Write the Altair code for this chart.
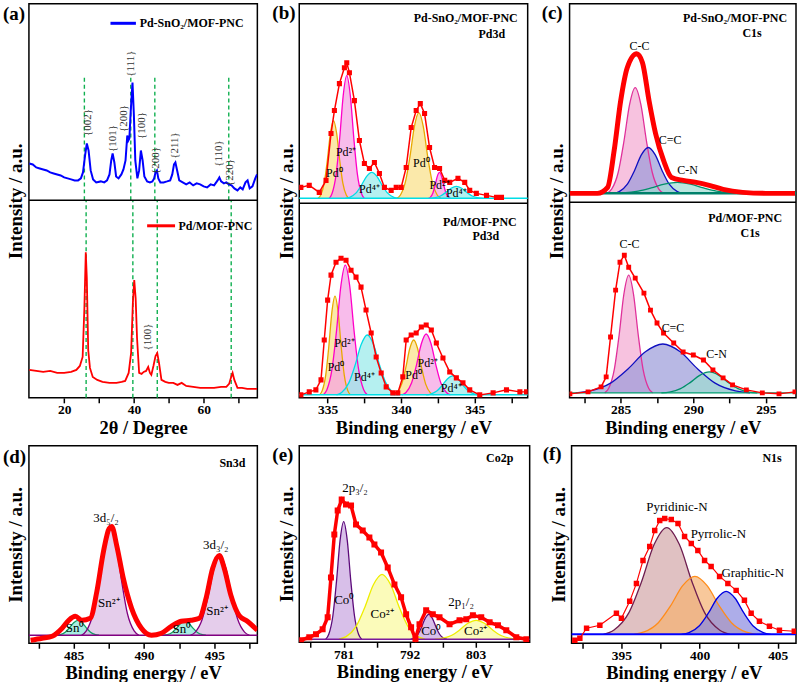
import altair as alt
import pandas as pd

SERIF = "Liberation Serif"
RED = "#ff0000"

# ================= (a) XRD =================
a_domain = [9.9, 75.4]
a_ticks = [20, 40, 60]
a_minor = [30, 50, 70]
xrd_snO2_x = [10, 11, 12, 13, 14, 15, 16, 17, 18, 19,
              20, 21, 22, 23, 24, 24.8, 25.4, 26.0, 26.5, 27.0,
              27.6, 28.3, 29.2, 30.5, 31.5, 32.3, 33.0, 33.5, 33.9, 34.4,
              34.9, 35.6, 36.4, 37.0, 37.6, 38.1, 38.4, 38.7, 39.1, 39.6,
              40.0, 40.4, 41.0, 41.5, 42.0, 42.5, 43.0, 43.8, 44.6, 45.3,
              45.8, 46.2, 46.6, 47.0, 47.6, 48.5, 49.5, 50.4, 51.0, 51.5,
              51.9, 52.4, 53.0, 54.0, 55.0, 56.0, 57.0, 58.0, 59.0, 60.0,
              61.0, 62.0, 63.0, 64.0, 64.5, 65.0, 65.8, 66.5, 67.2, 68.0,
              68.8, 69.7, 70.5, 71.2, 72.0, 72.6, 73.2, 74.0, 74.8, 75.3]
xrd_snO2_y = [37, 36, 33, 32, 31, 30, 28, 27, 26, 25,
              23, 22, 21, 20, 20, 22, 28, 45, 57, 50,
              30, 21, 18, 19, 18, 20, 26, 40, 47, 38,
              24, 22, 26, 31, 40, 65, 60, 62, 90, 118,
              85, 40, 22, 30, 50, 40, 24, 19, 18, 19,
              22, 28, 30, 22, 18, 18, 19, 20, 26, 36,
              38, 30, 20, 18, 16, 18, 15, 17, 16, 14,
              13, 16, 15, 20, 23, 19, 17, 18, 16, 15,
              12, 10, 13, 11, 18, 20, 12, 14, 22, 26]
xrd_pd_x = [10, 12, 14, 16, 18, 20, 22, 23.5, 24.5, 25.3,
            25.8, 26.2, 26.5, 26.9, 27.4, 28.2, 29.5, 31, 33, 35,
            36.5, 37.5, 38.5, 39.2, 39.7, 40.1, 40.5, 40.9, 41.5, 42.2,
            42.8, 43.5, 44.1, 44.6, 45.0, 45.6, 46.2, 46.7, 47.2, 47.9,
            49, 50, 51.3, 52.5, 53.7, 55, 57, 59, 61, 63,
            65, 66.5, 67.3, 67.8, 68.3, 68.8, 69.7, 71, 72.5, 74,
            75.3]
xrd_pd_y = [28, 27, 26, 27, 25, 25, 26, 28, 32, 41,
            90, 146, 120, 48, 30, 21, 18, 16, 15, 15,
            16, 17, 25, 45, 95, 118, 100, 60, 25, 24,
            26, 27, 31, 25, 23, 32, 42, 45, 35, 18,
            16, 15, 15, 13, 15, 12, 11, 10, 10, 10,
            11, 11, 14, 20, 25, 18, 10, 10, 9, 9,
            9]
xrd_guides_top = [25.8, 39.1, 46.0, 67.2]
xrd_guides_bot = [26.3, 39.7, 46.7, 67.9]
hkl_top = [("{002}", 26.7, 78), ("{101}", 33.9, 62), ("{200}", 37.2, 82),
           ("{111}", 39.1, 137), ("{100}", 42.2, 75), ("{200}", 46.3, 40),
           ("{211}", 51.8, 55), ("{110}", 64.3, 47), ("{220}", 67.6, 28)]
hkl_bot = [("{100}", 44.1, 61)]

# ================= (b) Pd3d =================
b_domain = [333.07, 348.6]
b_ticks = [335, 340, 345]
b_minor = [337.5, 342.5, 347.5]
b_top_E = [333.18, 333.75, 334.43, 334.89, 335.23, 335.46, 335.8, 336.14, 336.3, 336.48,
           336.82, 337.16, 337.5, 337.84, 338.18, 338.52, 338.86, 339.32, 339.66, 340.0,
           340.34, 340.68, 341.02, 341.3, 341.59, 341.93, 342.27, 342.61, 342.96, 343.3,
           343.86, 344.32, 344.66, 345.11, 345.8, 346.48, 346.82]
b_top_h = [16, 18, 11, 23, 70, 93, 120, 136, 141, 131,
           103, 63, 40, 35, 41, 30, 16, 13, 16, 16,
           36, 76, 93, 100, 90, 56, 36, 35, 23, 21,
           25, 21, 13, 10, 8, 6, 6]
b_bot_E = [333.18, 333.75, 334.2, 334.55, 334.77, 335.0, 335.23, 335.57, 335.91, 336.25,
           336.59, 336.93, 337.27, 337.61, 337.96, 338.3, 338.64, 338.98, 339.43, 339.77,
           340.11, 340.34, 340.68, 341.02, 341.37, 341.7, 342.05, 342.39, 342.84, 343.3,
           343.75, 344.2, 344.66, 345.34, 346.25, 347.16, 348.07, 348.52]
b_bot_h = [3, 6, 8, 18, 58, 98, 123, 136, 140, 138,
           128, 121, 111, 88, 65, 41, 25, 11, 5, 5,
           21, 58, 63, 65, 71, 73, 68, 55, 40, 26,
           20, 15, 8, 3, 5, 8, 6, 6]
PD0 = ("#e8a800", "#f9df86")
PD2 = ("#ff00c8", "#f5a0e2")
PD4 = ("#00dde6", "#96eaea")
b_top_peaks = [
    ([334.35, 334.525, 334.77, 334.98, 335.19, 335.4, 335.61, 335.82, 336.03, 336.275, 336.45],
     [5, 8.1, 20.6, 43.2, 70.5, 83, 70.5, 43.2, 20.6, 8.1, 5]) + PD0,
    ([335.1, 335.3, 335.58, 335.82, 336.06, 336.3, 336.54, 336.78, 337.02, 337.3, 337.5],
     [5, 9.9, 29.6, 65.3, 108.3, 128, 108.3, 65.3, 29.6, 9.9, 5]) + PD2,
    ([336.2, 336.5, 336.92, 337.28, 337.64, 338.0, 338.36, 338.72, 339.08, 339.5, 339.8],
     [5, 6, 10.2, 17.7, 26.8, 31, 26.8, 17.7, 10.2, 6, 5]) + PD4,
    ([339.7, 339.95, 340.3, 340.6, 340.9, 341.2, 341.5, 341.8, 342.1, 342.45, 342.7],
     [5, 8.4, 22.2, 47.1, 77.2, 91, 77.2, 47.1, 22.2, 8.4, 5]) + PD0,
    ([341.85, 341.975, 342.15, 342.3, 342.45, 342.6, 342.75, 342.9, 343.05, 343.225, 343.35],
     [5, 6, 10.2, 17.7, 26.8, 31, 26.8, 17.7, 10.2, 6, 5]) + PD2,
    ([341.95, 342.25, 342.67, 343.03, 343.39, 343.75, 344.11, 344.47, 344.83, 345.25, 345.55],
     [5, 5.5, 7.4, 10.9, 15.1, 17, 15.1, 10.9, 7.4, 5.5, 5]) + PD4,
]
b_bot_peaks = [
    ([334.45, 334.625, 334.87, 335.08, 335.29, 335.5, 335.71, 335.92, 336.13, 336.375, 336.55],
     [3, 7, 22.8, 51.5, 86.2, 102, 86.2, 51.5, 22.8, 7, 3]) + PD0,
    ([334.7, 334.95, 335.3, 335.6, 335.9, 336.2, 336.5, 336.8, 337.1, 337.45, 337.7],
     [3, 8.2, 29, 66.7, 112.2, 133, 112.2, 66.7, 29, 8.2, 3]) + PD2,
    ([335.6, 335.95, 336.44, 336.86, 337.28, 337.7, 338.12, 338.54, 338.96, 339.45, 339.8],
     [3, 5.4, 15, 32.4, 53.4, 63, 53.4, 32.4, 15, 5.4, 3]) + PD4,
    ([339.5, 339.725, 340.04, 340.31, 340.58, 340.85, 341.12, 341.39, 341.66, 341.975, 342.2],
     [3, 5.2, 14, 30, 49.2, 58, 49.2, 30, 14, 5.2, 3]) + PD0,
    ([340.05, 340.325, 340.71, 341.04, 341.37, 341.7, 342.03, 342.36, 342.69, 343.075, 343.35],
     [3, 5.4, 15.2, 32.9, 54.2, 64, 54.2, 32.9, 15.2, 5.4, 3]) + PD2,
    ([341.7, 342.0, 342.42, 342.78, 343.14, 343.5, 343.86, 344.22, 344.58, 345.0, 345.3],
     [3, 3.8, 6.8, 12.3, 19, 22, 19, 12.3, 6.8, 3.8, 3]) + PD4,
]
b_top_labels = [("Pd⁰", 335.46, 30), ("Pd²⁺", 336.25, 51), ("Pd⁴⁺", 337.84, 14),
                ("Pd⁰", 341.37, 40), ("Pd²⁺", 342.61, 18), ("Pd⁴⁺", 343.75, 10)]
b_bot_labels = [("Pd⁰", 335.57, 31), ("Pd²⁺", 336.14, 55), ("Pd⁴⁺", 337.5, 21),
                ("Pd⁰", 340.85, 23), ("Pd²⁺", 341.8, 35), ("Pd⁴⁺", 343.4, 10)]

# ================= (c) C1s =================
c_domain = [281.48, 297.07]
c_ticks = [285, 290, 295]
c_minor = [282.5, 287.5, 292.5]
c_top_E = [281.5, 283.4, 284.1, 284.55, 285.0, 285.45, 286.1, 286.5, 286.95, 287.4,
           287.95, 288.5, 289.3, 290.2, 291.1, 292.05, 293.4, 295.0, 297.0]
c_top_h = [9, 9, 15, 52, 102, 135, 149, 140, 102, 69,
           42, 25, 22, 20, 17, 13, 10, 9, 9]
c_bot_E = [281.5, 282.75, 283.65, 284.0, 284.3, 284.65, 284.95, 285.25, 285.55, 286.0,
           286.6, 287.05, 287.5, 287.95, 288.65, 289.3, 290.0, 290.7, 291.35, 292.05,
           292.7, 293.65, 294.75, 295.9, 297.0]
c_bot_h = [4, 6, 11, 21, 61, 108, 136, 143, 131, 120,
           105, 88, 75, 65, 55, 46, 43, 38, 28, 20,
           13, 8, 5, 4, 6]
CC = ("#e0309a", "#f4a8d2")
CDC = ("#1010c0", "#9a9ad8")
CN = ("#008f6a", "#9edcd2")
c_top_peaks = [
    ([284.05, 284.375, 284.83, 285.22, 285.61, 286.0, 286.39, 286.78, 287.17, 287.625, 287.95],
     [9, 13.2, 30.2, 61, 98, 115, 98, 61, 30.2, 13.2, 9]) + CC,
    ([284.5, 284.9, 285.46, 285.94, 286.42, 286.9, 287.38, 287.86, 288.34, 288.9, 289.3],
     [9, 10.8, 18.2, 31.5, 47.6, 55, 47.6, 31.5, 18.2, 10.8, 9]) + CDC,
    ([284.4, 285.15, 286.2, 287.1, 288.0, 288.9, 289.8, 290.7, 291.6, 292.65, 293.4],
     [9, 9.4, 11.2, 14.4, 18.2, 20, 18.2, 14.4, 11.2, 9.4, 9]) + CN,
]
c_bot_peaks = [
    ([283.9, 284.175, 284.56, 284.89, 285.22, 285.55, 285.88, 286.21, 286.54, 286.925, 287.2],
     [5, 9.7, 28.6, 62.8, 104.1, 123, 104.1, 62.8, 28.6, 9.7, 5]) + CC,
    ([281.9, 282.9, 284.3, 285.5, 286.7, 287.9, 289.1, 290.3, 291.5, 292.9, 293.9],
     [5, 7, 14.8, 29, 46.2, 54, 46.2, 29, 14.8, 7, 5]) + CDC,
    ([287.8, 288.35, 289.12, 289.78, 290.44, 291.1, 291.76, 292.42, 293.08, 293.85, 294.4],
     [5, 5.8, 9.2, 15.3, 22.6, 26, 22.6, 15.3, 9.2, 5.8, 5]) + CN,
]
c_top_labels = [("C-C", 286.3, 157), ("C=C", 288.4, 62), ("C-N", 289.6, 32)]
c_bot_labels = [("C-C", 285.6, 154), ("C=C", 288.6, 70), ("C-N", 291.6, 44)]

# ================= (d) Sn3d =================
d_domain = [481.82, 498.06]
d_ticks = [485, 490, 495]
d_minor = [482.5, 487.5, 492.5, 497.5]
d_E = [481.94, 482.76, 483.47, 484.18, 484.65, 485.12, 485.59, 486.18, 486.65, 487.12,
       487.52, 487.71, 488.06, 488.53, 489.12, 489.82, 490.53, 491.24, 491.94, 492.65,
       493.35, 493.94, 494.41, 494.88, 495.35, 495.71, 496.18, 496.76, 497.35, 498.06]
d_h = [3, 5, 7, 15, 23, 27, 23, 25, 52, 92,
       115, 117, 98, 65, 35, 15, 8, 10, 17, 22,
       23, 25, 45, 75, 88, 75, 48, 28, 22, 13]
SN0 = ("#10a060", "#80e6d6")
SN2 = ("#800080", "#dab8e2")
d_peaks = [
    ([483.8, 484.05, 484.4, 484.7, 485.0, 485.3, 485.6, 485.9, 486.2, 486.55, 486.8],
     [8, 8.6, 11, 15.4, 20.6, 23, 20.6, 15.4, 11, 8.6, 8]) + SN0,
    ([485.56, 485.9, 486.38, 486.78, 487.19, 487.6, 488.01, 488.42, 488.82, 489.3, 489.64],
     [8, 12.4, 29.8, 61.4, 99.6, 117, 99.6, 61.4, 29.8, 12.4, 8]) + SN2,
    ([491.4, 491.65, 492.0, 492.3, 492.6, 492.9, 493.2, 493.5, 493.8, 494.15, 494.4],
     [8, 8.6, 10.8, 14.9, 19.8, 22, 19.8, 14.9, 10.8, 8.6, 8]) + SN0,
    ([493.3, 493.65, 494.14, 494.56, 494.98, 495.4, 495.82, 496.24, 496.66, 497.15, 497.5],
     [8, 11.2, 24, 47.2, 75.2, 88, 75.2, 47.2, 24, 11.2, 8]) + SN2,
]
d_labels = [("3d₅/₂", 487.3, 126), ("3d₃/₂", 495.1, 98), ("Sn²⁺", 487.5, 40),
            ("Sn²⁺", 495.2, 32), ("Sn⁰", 485.1, 15), ("Sn⁰", 492.7, 14)]

# ================= (e) Co2p =================
e_domain = [773.59, 812.03]
e_ticks = [781, 792, 803]
e_minor = [775.5, 786.5, 797.5, 808.5]
e_E = [773.87, 775.26, 776.38, 777.49, 778.33, 778.88, 779.44, 780.0, 780.67, 781.39,
       782.23, 783.06, 784.18, 785.29, 786.13, 787.24, 788.35, 789.47, 790.58, 791.42,
       792.25, 792.98, 793.65, 794.76, 795.87, 796.99, 798.66, 800.33, 801.45, 802.56,
       803.95, 805.35, 806.74, 808.13, 809.8, 811.47]
e_h = [2, 5, 8, 13, 25, 65, 108, 132, 143, 138,
       137, 118, 112, 105, 98, 90, 75, 58, 45, 28,
       15, 3, 18, 32, 28, 25, 18, 22, 23, 27,
       25, 20, 17, 12, 5, 3]
CO0 = ("#5c0a7a", "#c8a4e0")
CO2 = ("#eeee00", "#fafa9c")
e_peaks = [
    ([778.0, 778.5, 779.2, 779.8, 780.4, 781.0, 781.6, 782.2, 782.8, 783.5, 784.0],
     [3, 7.7, 26.6, 60.8, 102.1, 121, 102.1, 60.8, 26.6, 7.7, 3]) + CO0,
    ([780.2, 781.4, 783.08, 784.52, 785.96, 787.4, 788.84, 790.28, 791.72, 793.4, 794.6],
     [3, 5.6, 16, 34.9, 57.6, 68, 57.6, 34.9, 16, 5.6, 3]) + CO2,
    ([792.2, 792.7, 793.4, 794.0, 794.6, 795.2, 795.8, 796.4, 797.0, 797.7, 798.2],
     [3, 4, 8, 15.3, 24, 28, 24, 15.3, 8, 4, 3]) + CO0,
    ([796.2, 797.35, 798.96, 800.34, 801.72, 803.1, 804.48, 805.86, 807.24, 808.85, 810.0],
     [3, 3.8, 6.8, 12.3, 19, 22, 19, 12.3, 6.8, 3.8, 3]) + CO2,
]
e_labels = [("2p₃/₂", 782.9, 155), ("Co⁰", 781.1, 42), ("Co²⁺", 787.4, 28),
            ("2p₁/₂", 800.6, 40), ("Co⁰", 795.6, 11), ("Co²⁺", 803.0, 11)]

# ================= (f) N1s =================
f_domain = [391.81, 406.17]
f_ticks = [395, 400, 405]
f_minor = [392.5, 397.5, 402.5]
f_E = [392.02, 392.34, 392.77, 393.62, 394.68, 395.0, 395.53, 395.96, 396.38, 396.81,
       397.13, 397.45, 397.77, 398.19, 398.62, 399.04, 399.47, 399.89, 400.32, 400.74,
       401.28, 401.81, 402.34, 402.87, 403.3, 403.83, 404.47, 405.11, 406.06]
f_h = [3, 5, 15, 18, 30, 25, 42, 60, 83, 97,
       113, 123, 125, 124, 120, 107, 100, 93, 83, 77,
       67, 60, 53, 43, 30, 22, 17, 13, 12]
f_peaks = [
    ([393.85, 394.525, 395.47, 396.28, 397.09, 397.9, 398.71, 399.52, 400.33, 401.275, 401.95],
     [9, 13.3, 30.4, 61.4, 98.9, 116, 98.9, 61.4, 30.4, 13.3, 9], "#6e1e50", "#d3a6a8"),
    ([395.8, 396.45, 397.36, 398.14, 398.92, 399.7, 400.48, 401.26, 402.04, 402.95, 403.6],
     [9, 11.3, 20.6, 37.4, 57.7, 67, 57.7, 37.4, 20.6, 11.3, 9], "#ff8c1a", "#f5b070"),
    ([398.85, 399.325, 399.99, 400.56, 401.13, 401.7, 402.27, 402.84, 403.41, 404.075, 404.55],
     [9, 10.7, 17.6, 30.1, 45.1, 52, 45.1, 30.1, 17.6, 10.7, 9], "#0000e0", "#8a8ae0"),
]
f_labels = [("Pyridinic-N", 398.55, 137), ("Pyrrolic-N", 401.2, 110), ("Graphitic-N", 403.4, 70)]


# ================= helpers =================
def sc(dom):
    return alt.Scale(domain=dom, nice=False, zero=False)


def xaxis(major, minor, title, tpad=2):
    return alt.Axis(values=sorted(major + minor), title=title, format="d",
                    labelExpr=f"indexof({major}, datum.value) >= 0 ? datum.label : ''",
                    grid=False, domain=False,
                    ticks=True, tickSize=5, tickWidth=1.5, tickColor="black",
                    labelPadding=0, labelFont=SERIF, labelFontSize=13.5, labelFontWeight="bold",
                    labelColor="black", titleFont=SERIF, titleFontSize=18.5,
                    titleFontWeight="bold", titleColor="black", titlePadding=tpad)


YAXIS = alt.Axis(title="Intensity / a.u.", labels=False, ticks=False, domain=False, grid=False,
                 titleFont=SERIF, titleFontSize=19, titleFontWeight="bold",
                 titleColor="black", titlePadding=3)


class Panel:
    """Holds the shared scales and axes of one panel; every layer uses the same ones."""

    def __init__(self, dom, ydom, xax):
        self.dom, self.ydom, self.xax, self.yax = dom, ydom, xax, YAXIS

    def X(self, field="E"):
        return alt.X(f"{field}:Q", scale=sc(self.dom), axis=self.xax)

    def Y(self, field="h"):
        return alt.Y(f"{field}:Q", scale=sc(self.ydom), axis=self.yax)

    def xy(self):
        return dict(x=self.X(), y=self.Y())

    def peaks(self, peaks, base, off=0, opacity=0.7):
        areas, lines = [], []
        for E, H, lc, fc in peaks:
            df = pd.DataFrame({"E": E, "h": [v + off for v in H], "b": [base + off] * len(E)})
            areas.append(alt.Chart(df).mark_area(interpolate="monotone", color=fc,
                                                 opacity=opacity, clip=True)
                         .encode(y2="b:Q", **self.xy()))
            lines.append(alt.Chart(df).mark_line(interpolate="monotone", color=lc,
                                                 strokeWidth=1.3, clip=True)
                         .encode(**self.xy()))
        return areas + lines

    def data(self, E, H, off=0, width=1.5, psize=0, interp="linear"):
        df = pd.DataFrame({"E": E, "h": [v + off for v in H]})
        kw = dict(color=RED, strokeWidth=width, interpolate=interp, clip=True)
        if psize:
            kw["point"] = alt.OverlayMarkDef(shape="square", size=psize, filled=True,
                                             color=RED, opacity=1)
        return alt.Chart(df).mark_line(**kw).encode(**self.xy())

    def labels(self, labels, off=0, size=12, color="black", angle=0):
        df = pd.DataFrame({"t": [l[0] for l in labels], "E": [l[1] for l in labels],
                           "h": [l[2] + off for l in labels]})
        kw = dict(font=SERIF, fontSize=size, color=color, align="center", baseline="middle")
        if angle:
            kw["angle"] = angle
        return alt.Chart(df).mark_text(**kw).encode(text="t:N", **self.xy())

    def hrule(self, yv, color, width=1.5):
        return alt.Chart(pd.DataFrame({"h": [yv]})).mark_rule(color=color, strokeWidth=width) \
            .encode(y=self.Y())

    def vguides(self, xs, y0, y1):
        df = pd.DataFrame({"E": xs, "h": [y0] * len(xs), "h2": [y1] * len(xs)})
        return alt.Chart(df).mark_rule(color="#10b050", strokeWidth=1.4, strokeDash=[4, 3]) \
            .encode(x=self.X(), y=self.Y(), y2="h2:Q")


def px_text(t, x, y, size=12, bold=True, align="center"):
    df = pd.DataFrame({"t": [t]})
    return alt.Chart(df).mark_text(font=SERIF, fontSize=size,
                                   fontWeight="bold" if bold else "normal",
                                   align=align, baseline="middle", color="black") \
        .encode(text="t:N", x=alt.value(x), y=alt.value(y))


def legend(x, y, size):
    return alt.Legend(orient="none", legendX=x, legendY=y, title=None, symbolType="stroke",
                      symbolStrokeWidth=3, symbolSize=size, labelFont=SERIF, labelFontSize=12,
                      labelFontWeight="bold", labelColor="black", labelOffset=2, padding=0)


TOP_H = 395
BE = "Binding energy / eV"

# ---------- panel (a) ----------
A_OFF = 198
pa = Panel(a_domain, [0, TOP_H], xaxis(a_ticks, a_minor, "2θ / Degree"))
snO2_name = "Pd-SnO₂/MOF-PNC"
pd_name = "Pd/MOF-PNC"
df_blue = pd.DataFrame({"E": xrd_snO2_x, "h": [v + A_OFF for v in xrd_snO2_y], "s": snO2_name})
df_red = pd.DataFrame({"E": xrd_pd_x, "h": xrd_pd_y, "s": pd_name})
blue = alt.Chart(df_blue).mark_line(strokeWidth=2, clip=True).encode(
    color=alt.Color("s:N", scale=alt.Scale(domain=[snO2_name], range=["#0000ff"]),
                    legend=legend(80, 5, 650)),
    **pa.xy())
red = alt.Chart(df_red).mark_line(strokeWidth=1.8, clip=True).encode(
    color=alt.Color("s:N", scale=alt.Scale(domain=[pd_name], range=[RED]),
                    legend=legend(117, 207, 784)),
    **pa.xy())
panel_a = alt.layer(
    pa.vguides(xrd_guides_top, A_OFF, A_OFF + 123),
    pa.vguides(xrd_guides_bot, 0, A_OFF),
    blue, red,
    pa.labels(hkl_top, off=A_OFF, size=11, color="#333333", angle=270),
    pa.labels(hkl_bot, size=11, color="#333333", angle=270),
    pa.hrule(A_OFF, "black"),
    px_text("(a)", -26, 10, size=19, align="left"),
).resolve_scale(color="independent").properties(width=229, height=TOP_H)

# ---------- panel (b) ----------
B_OFF = 195
pb = Panel(b_domain, [0, TOP_H], xaxis(b_ticks, b_minor, BE))
panel_b = alt.layer(
    *pb.peaks(b_top_peaks, 5, off=B_OFF),
    *pb.peaks(b_bot_peaks, 3),
    pb.hrule(5 + B_OFF, "#00dde6", 1.5),
    pb.hrule(3, "#00dde6", 1.5),
    pb.data(b_top_E, b_top_h, off=B_OFF, width=1.5, psize=26),
    pb.data(b_bot_E, b_bot_h, width=1.5, psize=26),
    pb.labels(b_top_labels, off=B_OFF),
    pb.labels(b_bot_labels),
    pb.hrule(B_OFF, "black"),
    px_text("Pd-SnO₂/MOF-PNC", 219, 14, align="right"),
    px_text("Pd3d", 193, 30),
    px_text("Pd/MOF-PNC", 218, 219, align="right"),
    px_text("Pd3d", 187, 233),
    px_text("(b)", -27, 9, size=19, align="left"),
).properties(width=229, height=TOP_H)

# ---------- panel (c) ----------
C_OFF = 196
pc = Panel(c_domain, [0, TOP_H], xaxis(c_ticks, c_minor, BE))
panel_c = alt.layer(
    *pc.peaks(c_top_peaks, 9, off=C_OFF),
    *pc.peaks(c_bot_peaks, 5),
    pc.hrule(9 + C_OFF, "#00806a", 2.5),
    pc.hrule(5, "#00a070", 1.2),
    pc.data(c_top_E, c_top_h, off=C_OFF, width=5, interp="monotone"),
    pc.data(c_bot_E, c_bot_h, width=1.5, psize=24),
    pc.labels(c_top_labels, off=C_OFF),
    pc.labels(c_bot_labels),
    pc.hrule(C_OFF, "black"),
    px_text("Pd-SnO₂/MOF-PNC", 218, 14, align="right"),
    px_text("C1s", 183, 29),
    px_text("Pd/MOF-PNC", 213, 215, align="right"),
    px_text("C1s", 181, 230),
    px_text("(c)", -28, 9, size=19, align="left"),
).properties(width=227, height=TOP_H)

# ---------- panel (d) ----------
pdd = Panel(d_domain, [0, 198], xaxis(d_ticks, d_minor, BE))
panel_d = alt.layer(
    *pdd.peaks(d_peaks, 8),
    pdd.hrule(8, "#800080", 1.5),
    pdd.data(d_E, d_h, width=5, interp="monotone"),
    pdd.labels(d_labels, size=13),
    px_text("Sn3d", 204, 17),
    px_text("(d)", -26, 11, size=19, align="left"),
).properties(width=229, height=198)

# ---------- panel (e) ----------
pe = Panel(e_domain, [0, 197], xaxis(e_ticks, e_minor, BE))
panel_e = alt.layer(
    *pe.peaks(e_peaks, 3),
    pe.hrule(3, "#7a1a9a", 1.5),
    pe.data(e_E, e_h, width=3.5, psize=36),
    pe.labels(e_labels, size=13),
    px_text("Co2p", 201, 12),
    px_text("(e)", -27, 9, size=19, align="left"),
).properties(width=231, height=197)

# ---------- panel (f) ----------
pf = Panel(f_domain, [0, 198], xaxis(f_ticks, f_minor, BE))
panel_f = alt.layer(
    *pf.peaks(f_peaks, 9),
    pf.hrule(9, "#0000ff", 2),
    pf.data(f_E, f_h, width=1.2, psize=30),
    pf.labels(f_labels, size=13),
    px_text("N1s", 201, 12),
    px_text("(f)", -29, 8, size=19, align="left"),
).properties(width=225, height=198)

row1 = alt.hconcat(panel_a, panel_b, panel_c, spacing=42, bounds="flush")
row2 = alt.hconcat(panel_d, panel_e, panel_f, spacing=42, bounds="flush")

chart = alt.vconcat(row1, row2, spacing=6).properties(
    padding={"left": 2, "top": 2, "right": 2, "bottom": 0}
).configure_view(stroke="black", strokeWidth=1.5)

chart.save("out.html", embed_options={"renderer": "svg", "actions": False})
